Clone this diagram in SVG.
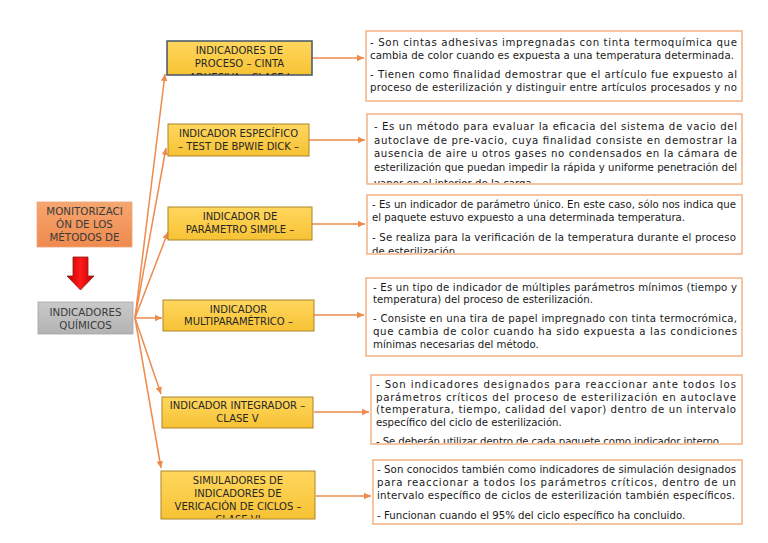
<svg xmlns="http://www.w3.org/2000/svg" width="768" height="543" viewBox="0 0 768 543">
<style>
.yb{fill:url(#yg);stroke:#A9852A;stroke-width:1}
.yt{font-family:"DejaVu Sans",sans-serif;font-size:10px;fill:#262626;text-anchor:middle}
.tb{fill:#fff;stroke:#F4B183;stroke-width:1.5}
.tt{font-family:"DejaVu Sans",sans-serif;font-size:10.2px;fill:#1a1a1a}
.con{stroke:#EE8A4C;stroke-width:1.5;fill:none;marker-end:url(#ah)}
.lt{font-family:"DejaVu Sans",sans-serif;font-size:10.3px;fill:#3a3a3a;text-anchor:middle}
</style>
<defs>
<linearGradient id="yg" x1="0" y1="0" x2="0" y2="1"><stop offset="0" stop-color="#FFD75E"/><stop offset="1" stop-color="#F7C234"/></linearGradient>
<linearGradient id="og" x1="0" y1="0" x2="0" y2="1"><stop offset="0" stop-color="#F6A670"/><stop offset="1" stop-color="#EF8A4E"/></linearGradient>
<linearGradient id="gg" x1="0" y1="0" x2="0" y2="1"><stop offset="0" stop-color="#C9C9C9"/><stop offset="1" stop-color="#B3B3B3"/></linearGradient>
<linearGradient id="rg" x1="0" y1="0" x2="1" y2="0"><stop offset="0" stop-color="#C00000"/><stop offset="0.5" stop-color="#FF1A1A"/><stop offset="1" stop-color="#C00000"/></linearGradient>
<marker id="ah" markerUnits="userSpaceOnUse" markerWidth="8" markerHeight="8" refX="7" refY="4" orient="auto"><path d="M0,0.8 L7,4 L0,7.2 Z" fill="#EE8A4C"/></marker>
<clipPath id="c1"><rect x="366" y="31" width="376" height="69"/></clipPath>
<clipPath id="c2"><rect x="367" y="114" width="375" height="69"/></clipPath>
<clipPath id="c3"><rect x="367" y="195" width="375" height="58"/></clipPath>
<clipPath id="c5"><rect x="371" y="375" width="371" height="68"/></clipPath>
<clipPath id="cy1"><rect x="167" y="41" width="145" height="34"/></clipPath>
<clipPath id="cy6"><rect x="161" y="471" width="154" height="47"/></clipPath>
<clipPath id="co"><rect x="37" y="202" width="95" height="45"/></clipPath>
</defs>
<rect width="768" height="543" fill="#fff"/>

<g id="monitorizacion">
<rect x="37" y="202" width="95" height="45" fill="url(#og)" stroke="#E9A57A" stroke-width="0.8"/>
<g clip-path="url(#co)">
<text class="lt" x="84.5" y="215">MONITORIZACI</text>
<text class="lt" x="84.5" y="228">ÓN DE LOS</text>
<text class="lt" x="84.5" y="241">MÉTODOS DE</text>
</g>
</g>

<g id="flecha-roja">
<path d="M73,257 H88 V276 H94 L80.5,290 L67,276 H73 Z" fill="url(#rg)" stroke="#8E1A1A" stroke-width="0.8"/>
</g>

<g id="indicadores-quimicos">
<rect x="38" y="302" width="95" height="32" fill="url(#gg)" stroke="#A6A6A6" stroke-width="0.8"/>
<text class="lt" x="85.5" y="316">INDICADORES</text>
<text class="lt" x="85.5" y="329">QUÍMICOS</text>
</g>

<g id="connectors">
<path class="con" d="M135,318 L165,74"/>
<path class="con" d="M135,318 L166,148"/>
<path class="con" d="M135,318 L168,232"/>
<path class="con" d="M135,318 L162,318"/>
<path class="con" d="M135,318 L161,394"/>
<path class="con" d="M135,318 L161,468"/>
<path class="con" d="M312,58 L364,58"/>
<path class="con" d="M309,140 L365,140"/>
<path class="con" d="M312,224 L365,224"/>
<path class="con" d="M314,315 L364,315"/>
<path class="con" d="M314,412 L369,412"/>
<path class="con" d="M316,496 L371,496"/>
</g>

<g id="proceso">
<rect x="167" y="41" width="145" height="34" fill="url(#yg)" stroke="#44546A" stroke-width="1.5"/>
<g clip-path="url(#cy1)">
<text class="yt" x="239.5" y="54">INDICADORES DE</text>
<text class="yt" x="239.5" y="67">PROCESO – CINTA</text>
<text class="yt" x="239.5" y="80.5">ADHESIVA – CLASE I</text>
</g>
</g>

<g id="especifico">
<rect class="yb" x="168" y="124" width="141" height="32"/>
<text class="yt" x="238.5" y="137">INDICADOR ESPECÍFICO</text>
<text class="yt" x="238.5" y="150">– TEST DE BPWIE DICK –</text>
</g>

<g id="simple">
<rect class="yb" x="168" y="207" width="144" height="33"/>
<text class="yt" x="240" y="220">INDICADOR DE</text>
<text class="yt" x="240" y="233">PARÁMETRO SIMPLE –</text>
</g>

<g id="multiparametrico">
<rect class="yb" x="163" y="300" width="151" height="31"/>
<text class="yt" x="238.5" y="313">INDICADOR</text>
<text class="yt" x="238.5" y="325">MULTIPARAMÉTRICO –</text>
</g>

<g id="integrador">
<rect class="yb" x="162" y="397" width="151" height="31"/>
<text class="yt" x="237.5" y="409">INDICADOR INTEGRADOR –</text>
<text class="yt" x="237.5" y="422">CLASE V</text>
</g>

<g id="simuladores">
<rect class="yb" x="161" y="471" width="154" height="48"/>
<g clip-path="url(#cy6)">
<text class="yt" x="238" y="484">SIMULADORES DE</text>
<text class="yt" x="238" y="497">INDICADORES DE</text>
<text class="yt" x="238" y="510">VERICACIÓN DE CICLOS –</text>
<text class="yt" x="238" y="523">CLASE VI</text>
</g>
</g>

<g id="texto-proceso">
<rect class="tb" x="366" y="31" width="376" height="70"/>
<g clip-path="url(#c1)">
<text class="tt" x="370" y="46" textLength="367" lengthAdjust="spacing">- Son cintas adhesivas impregnadas con tinta termoquímica que</text>
<text class="tt" x="370" y="59" textLength="364" lengthAdjust="spacing">cambia de color cuando es expuesta a una temperatura determinada.</text>
<text class="tt" x="370" y="78" textLength="367" lengthAdjust="spacing">- Tienen como finalidad demostrar que el artículo fue expuesto al</text>
<text class="tt" x="370" y="91" textLength="367" lengthAdjust="spacing">proceso de esterilización y distinguir entre artículos procesados y no</text>
</g>
</g>

<g id="texto-especifico">
<rect class="tb" x="367" y="114" width="375" height="70"/>
<g clip-path="url(#c2)">
<text class="tt" x="374" y="130" textLength="363" lengthAdjust="spacing">- Es un método para evaluar la eficacia del sistema de vacio del</text>
<text class="tt" x="374" y="143.5" textLength="363" lengthAdjust="spacing">autoclave de pre-vacio, cuya finalidad consiste en demostrar la</text>
<text class="tt" x="374" y="157" textLength="363" lengthAdjust="spacing">ausencia de aire u otros gases no condensados en la cámara de</text>
<text class="tt" x="374" y="170.5" textLength="363" lengthAdjust="spacing">esterilización que puedan impedir la rápida y uniforme penetración del</text>
<text class="tt" x="374" y="186.5">vapor en el interior de la carga.</text>
</g>
</g>

<g id="texto-simple">
<rect class="tb" x="367" y="195" width="375" height="59"/>
<g clip-path="url(#c3)">
<text class="tt" x="372" y="208" textLength="364" lengthAdjust="spacing">- Es un indicador de parámetro único. En este caso, sólo nos indica que</text>
<text class="tt" x="372" y="221">el paquete estuvo expuesto a una determinada temperatura.</text>
<text class="tt" x="372" y="241" textLength="364" lengthAdjust="spacing">- Se realiza para la verificación de la temperatura durante el proceso</text>
<text class="tt" x="372" y="255">de esterilización.</text>
</g>
</g>

<g id="texto-multiparametrico">
<rect class="tb" x="366" y="278" width="376" height="78"/>
<text class="tt" x="373" y="291" textLength="364" lengthAdjust="spacing">- Es un tipo de indicador de múltiples parámetros mínimos (tiempo y</text>
<text class="tt" x="373" y="303">temperatura) del proceso de esterilización.</text>
<text class="tt" x="373" y="322" textLength="364" lengthAdjust="spacing">- Consiste en una tira de papel impregnado con tinta termocrómica,</text>
<text class="tt" x="373" y="335" textLength="364" lengthAdjust="spacing">que cambia de color cuando ha sido expuesta a las condiciones</text>
<text class="tt" x="373" y="348">mínimas necesarias del método.</text>
</g>

<g id="texto-integrador">
<rect class="tb" x="371" y="375" width="371" height="69"/>
<g clip-path="url(#c5)">
<text class="tt" x="376" y="388" textLength="360" lengthAdjust="spacing">- Son indicadores designados para reaccionar ante todos los</text>
<text class="tt" x="376" y="400.5" textLength="360" lengthAdjust="spacing">parámetros críticos del proceso de esterilización en autoclave</text>
<text class="tt" x="376" y="413" textLength="360" lengthAdjust="spacing">(temperatura, tiempo, calidad del vapor) dentro de un intervalo</text>
<text class="tt" x="376" y="425.5">específico del ciclo de esterilización.</text>
<text class="tt" x="376" y="445" textLength="346" lengthAdjust="spacing">- Se deberán utilizar dentro de cada paquete como indicador interno.</text>
</g>
</g>

<g id="texto-simuladores">
<rect class="tb" x="373" y="460" width="369" height="64"/>
<text class="tt" x="377" y="473" textLength="359" lengthAdjust="spacing">- Son conocidos también como indicadores de simulación designados</text>
<text class="tt" x="377" y="486" textLength="359" lengthAdjust="spacing">para reaccionar a todos los parámetros críticos, dentro de un</text>
<text class="tt" x="377" y="499" textLength="358" lengthAdjust="spacing">intervalo específico de ciclos de esterilización también específicos.</text>
<text class="tt" x="377" y="519">- Funcionan cuando el 95% del ciclo específico ha concluido.</text>
</g>
</svg>
